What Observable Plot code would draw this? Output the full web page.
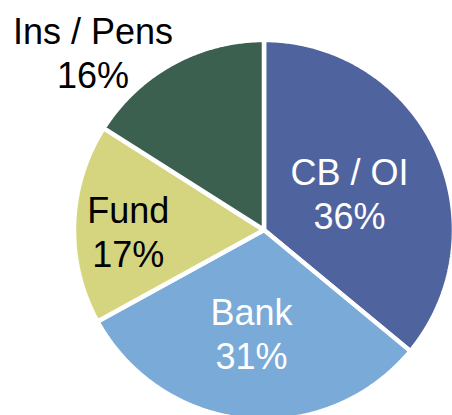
<!DOCTYPE html>
<html><head><meta charset="utf-8">
<script src="https://cdn.jsdelivr.net/npm/d3@7"></script>
<script src="https://cdn.jsdelivr.net/npm/@observablehq/plot@0.6"></script>
<style>html,body{margin:0;padding:0;background:#fff;}</style>
</head><body><div id="chart"></div>
<script>
// Data
const categories = ["CB / OI", "Bank", "Fund", "Ins / Pens"];
const shares = [36, 31, 17, 16];
const colors = ["#4F649F", "#7AAAD7", "#D5D57F", "#3B604F"];
const labelColors = ["#ffffff", "#ffffff", "#000000", "#000000"];

// Layout (pixels)
const W = 452, H = 415, CX = 263.5, CY = 229.5, R = 190;
// label placement: [radius fraction, angle (deg clockwise from top)]
const labelPlace = [[0.494, 66.6], [0.55, 186.9], [0.72, 269.6], [1.31, 316.2]];

const total = d3.sum(shares);
let acc = 0;
const slices = shares.map((v, i) => {
  const a0 = acc / total * 360; acc += v;
  const a1 = acc / total * 360;
  return {category: categories[i], a0, a1};
});

const pts = [];
for (const s of slices) {
  pts.push({category: s.category, x: 0, y: 0});
  const n = Math.max(2, Math.ceil((s.a1 - s.a0) / 0.5));
  for (let k = 0; k <= n; k++) {
    const a = (s.a0 + (s.a1 - s.a0) * k / n) * Math.PI / 180;
    pts.push({category: s.category, x: Math.sin(a), y: Math.cos(a)});
  }
  pts.push({category: s.category, x: 0, y: 0});
}

const labels = categories.map((c, i) => {
  const [r, ang] = labelPlace[i];
  const a = ang * Math.PI / 180;
  return {text: `${c}\n${shares[i]}%`, x: r * Math.sin(a) * 188.5 / R, y: r * Math.cos(a) * 188.5 / R, color: labelColors[i]};
});

const chart = Plot.plot({
  width: W, height: H,
  margin: 0,
  x: {domain: [-CX / R, (W - CX) / R], range: [0, W], axis: null},
  y: {domain: [-(H - CY) / R, CY / R], range: [H, 0], axis: null},
  color: {domain: categories, range: colors},
  style: {background: "#fff", overflow: "hidden"},
  marks: [
    Plot.line(pts, {x: "x", y: "y", z: "category", fill: "category", stroke: "#fff", strokeWidth: 4.5, strokeLinejoin: "miter"}),
    Plot.text(labels, {x: "x", y: "y", text: "text", fill: d => d.color, fontSize: 36, lineHeight: 1.22,
      fontFamily: "'Liberation Sans', Arial, sans-serif", textAnchor: "middle", lineAnchor: "middle"})
  ]
});
document.getElementById("chart").appendChild(chart);
</script>
</body></html>
